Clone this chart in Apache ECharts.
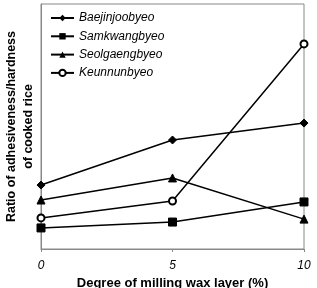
<!DOCTYPE html>
<html>
<head>
<meta charset="utf-8">
<script src="https://cdn.jsdelivr.net/npm/echarts@6/dist/echarts.min.js"></script>
<style>
  html, body { margin: 0; padding: 0; background: #fff; }
  #chart { width: 317px; height: 288px; }
</style>
</head>
<body>
<div id="chart"></div>
<script>
// degree of milling wax layer (%)
const milling = [0, 5, 10];
const xTicks = ['0', '5', '10'];
// ratio (relative scale, no y labels in the original)
const baejinjoobyeo = [26.1, 44.5, 51.4];
const samkwangbyeo = [8.6, 11.0, 19.2];
const seolgaengbyeo = [20.0, 29.0, 12.2];
const keunnunbyeo = [12.7, 19.6, 83.7];

const names = ['Baejinjoobyeo', 'Samkwangbyeo', 'Seolgaengbyeo', 'Keunnunbyeo'];
const values = [baejinjoobyeo, samkwangbyeo, seolgaengbyeo, keunnunbyeo];
const symbols = ['diamond', 'rect', 'triangle', 'emptyCircle'];
const sizes = [8, 8, 8, 7];

const chart = echarts.init(document.getElementById('chart'));
const font = 'Liberation Sans, Arial, sans-serif';

chart.setOption({
  animation: false,
  color: ['#000'],
  grid: {
    left: 41, right: 13, top: 4, bottom: 39,
    outerBoundsMode: 'none',
    containLabel: false,
    show: true, borderColor: '#888', borderWidth: 1
  },
  legend: {
    orient: 'vertical',
    left: 45, top: 7,
    itemWidth: 23, itemHeight: 8, itemGap: 6.3,
    data: names,
    textStyle: { fontFamily: font, fontStyle: 'italic', fontSize: 12, color: '#000' }
  },
  xAxis: {
    type: 'value',
    min: 0, max: 10, interval: 5,
    name: 'Degree of milling wax layer (%)',
    nameLocation: 'middle',
    nameGap: 25,
    nameTextStyle: { fontFamily: font, fontWeight: 'bold', fontSize: 13, color: '#000' },
    axisLine: { lineStyle: { color: '#888' } },
    axisTick: { show: true, length: 3, inside: false, lineStyle: { color: '#888' } },
    axisLabel: {
      fontFamily: font, fontStyle: 'italic', fontSize: 12, color: '#000', margin: 11,
      formatter: v => xTicks[milling.indexOf(v)] || ''
    },
    splitLine: { show: false }
  },
  yAxis: {
    type: 'value',
    min: 0, max: 100,
    name: 'Ratio of adhesiveness/hardness\nof cooked rice',
    nameLocation: 'middle',
    nameGap: 4,
    nameTextStyle: { fontFamily: font, fontWeight: 'bold', fontSize: 12.5, color: '#000', lineHeight: 17 },
    axisLine: { show: true, lineStyle: { color: '#888' } },
    axisTick: { show: false },
    axisLabel: { show: false },
    splitLine: { show: false }
  },
  series: names.map((n, i) => ({
    name: n,
    type: 'line',
    data: milling.map((x, j) => [x, values[i][j]]),
    symbol: symbols[i],
    symbolSize: sizes[i],
    lineStyle: { color: '#000', width: 1.5 },
    itemStyle: { color: '#000', borderColor: '#000' }
  }))
});
</script>
</body>
</html>
